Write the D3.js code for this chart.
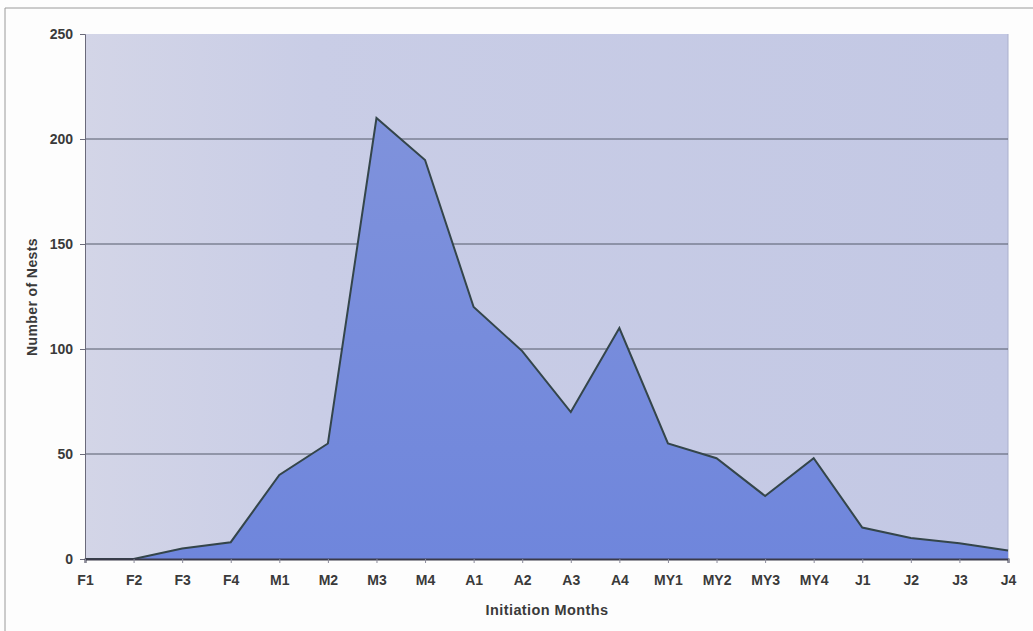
<!DOCTYPE html>
<html>
<head>
<meta charset="utf-8">
<script src="https://cdn.jsdelivr.net/npm/d3@7"></script>
<style>
  html, body { margin: 0; padding: 0; background: #fdfdfd; }
  svg { display: block; }
  text { font-family: "Liberation Sans", Arial, sans-serif; font-weight: bold; fill: #3a3a3a; }
</style>
</head>
<body>
<script>
const categories = ["F1","F2","F3","F4","M1","M2","M3","M4","A1","A2","A3","A4","MY1","MY2","MY3","MY4","J1","J2","J3","J4"];
const nests = [0, 0, 5, 8, 40, 55, 210, 190, 120, 99, 70, 110, 55, 48, 30, 48, 15, 10, 7.5, 4];
const yTicks = [0, 50, 100, 150, 200, 250];
const xTitle = "Initiation Months";
const yTitle = "Number of Nests";

const W = 1033, H = 631;
const m = { left: 85, right: 1008, top: 34, bottom: 559 };

const svg = d3.select("body").append("svg").attr("width", W).attr("height", H);

const defs = svg.append("defs");
const bg = defs.append("linearGradient").attr("id", "bg").attr("x1", 0).attr("y1", 0).attr("x2", 1).attr("y2", 0);
bg.append("stop").attr("offset", 0).attr("stop-color", "#d3d5e7");
bg.append("stop").attr("offset", 0.25).attr("stop-color", "#c9cde6");
bg.append("stop").attr("offset", 1).attr("stop-color", "#c3c8e4");
const af = defs.append("linearGradient").attr("id", "af").attr("x1", 0).attr("y1", 0).attr("x2", 0).attr("y2", 1);
af.append("stop").attr("offset", 0).attr("stop-color", "#7f92dc");
af.append("stop").attr("offset", 1).attr("stop-color", "#6f86dc");

// outer frame lines
svg.append("line").attr("x1", 5).attr("x2", 5).attr("y1", 8).attr("y2", H).attr("stroke", "#9a9a9a").attr("stroke-width", 1);
svg.append("line").attr("x1", 5).attr("x2", W).attr("y1", 8).attr("y2", 8).attr("stroke", "#9a9a9a").attr("stroke-width", 1);

const x = d3.scalePoint().domain(categories).range([m.left, m.right]).padding(0);
const y = d3.scaleLinear().domain([0, 250]).range([m.bottom, m.top]);

svg.append("rect").attr("x", m.left).attr("y", m.top)
  .attr("width", m.right - m.left).attr("height", m.bottom - m.top)
  .attr("fill", "url(#bg)");
svg.append("line").attr("x1", m.right).attr("x2", m.right).attr("y1", m.top).attr("y2", m.bottom)
  .attr("stroke", "#aab0cc").attr("stroke-width", 1);

// gridlines
svg.append("g").selectAll("line").data(yTicks.filter(d => d > 0 && d < 250)).join("line")
  .attr("x1", m.left).attr("x2", m.right)
  .attr("y1", d => y(d)).attr("y2", d => y(d))
  .attr("stroke", "#555a6a").attr("stroke-width", 1);

const data = categories.map((c, i) => ({ c, v: nests[i] }));
svg.append("path").datum(data)
  .attr("d", d3.area().x(d => x(d.c)).y0(y(0)).y1(d => y(d.v)))
  .attr("fill", "url(#af)");
svg.append("path").datum(data)
  .attr("d", d3.line().x(d => x(d.c)).y(d => y(d.v)))
  .attr("fill", "none").attr("stroke", "#34454a").attr("stroke-width", 2).attr("stroke-linejoin", "miter");

// axes
const yAxis = svg.append("g").attr("transform", `translate(${m.left},0)`)
  .call(d3.axisLeft(y).tickValues(yTicks).tickSize(5).tickPadding(7));
yAxis.select(".domain").attr("stroke", "#6a6a7a");
yAxis.selectAll(".tick line").attr("stroke", "#6a6a7a");
yAxis.selectAll("text").attr("font-size", 14).style("fill", "#3a3a3a").attr("font-family", null);

const xAxis = svg.append("g").attr("transform", `translate(0,${m.bottom})`)
  .call(d3.axisBottom(x).tickSize(4).tickPadding(12));
xAxis.select(".domain").attr("stroke", "#3a3a4a").attr("stroke-width", 2);
xAxis.selectAll(".tick line").attr("stroke", "#8a8a9a");
xAxis.selectAll("text").attr("font-size", 14).style("fill", "#3a3a3a").attr("font-family", null);

svg.append("text").attr("x", 547).attr("y", 615)
  .attr("text-anchor", "middle").attr("font-size", 14.5).attr("letter-spacing", 0.4).text(xTitle);
svg.append("text").attr("transform", `translate(37,297) rotate(-90)`)
  .attr("text-anchor", "middle").attr("font-size", 14).attr("letter-spacing", 0.4).text(yTitle);
</script>
</body>
</html>
